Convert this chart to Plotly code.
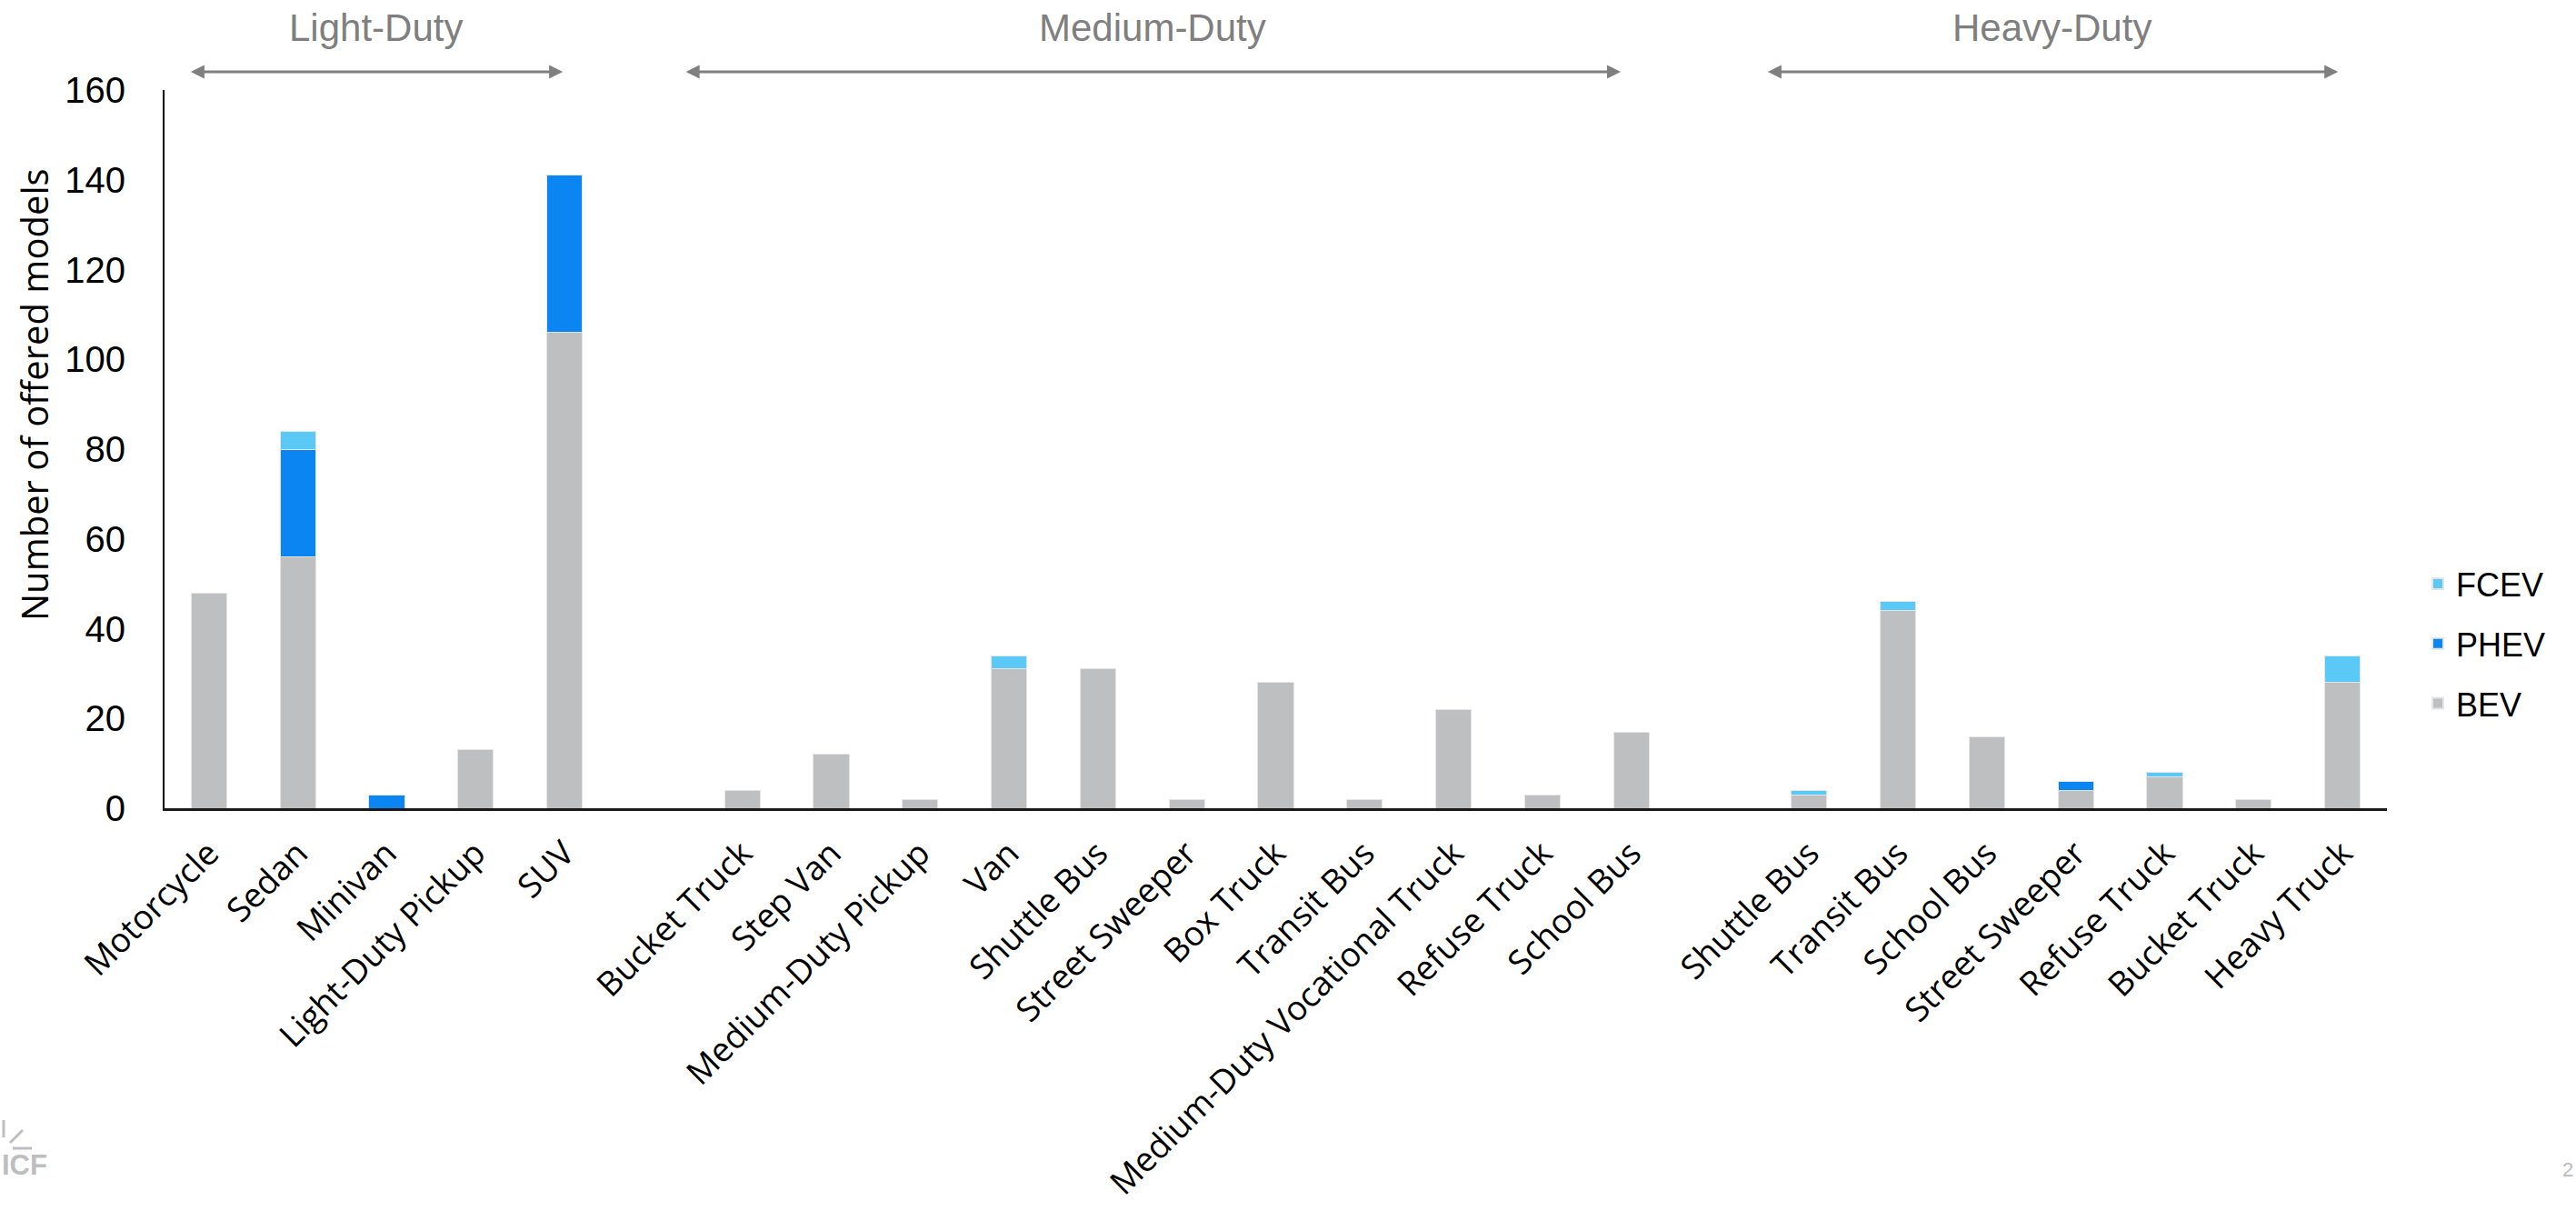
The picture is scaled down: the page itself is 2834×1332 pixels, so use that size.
import plotly.graph_objects as go

# Vehicle categories by weight class (blank slots separate the classes)
light_duty = ["Motorcycle", "Sedan", "Minivan", "Light-Duty Pickup", "SUV"]
medium_duty = ["Bucket Truck", "Step Van", "Medium-Duty Pickup", "Van", "Shuttle Bus",
               "Street Sweeper", "Box Truck", "Transit Bus", "Medium-Duty Vocational Truck",
               "Refuse Truck", "School Bus"]
heavy_duty = ["Shuttle Bus", "Transit Bus", "School Bus", "Street Sweeper",
              "Refuse Truck", "Bucket Truck", "Heavy Truck"]

# Offered models per powertrain, in the same order as the categories above
bev_ld = [48, 56, 0, 13, 106]
phev_ld = [0, 24, 3, 0, 35]
fcev_ld = [0, 4, 0, 0, 0]

bev_md = [4, 12, 2, 31, 31, 2, 28, 2, 22, 3, 17]
phev_md = [0, 0, 0, 0, 0, 0, 0, 0, 0, 0, 0]
fcev_md = [0, 0, 0, 3, 0, 0, 0, 0, 0, 0, 0]

bev_hd = [3, 44, 16, 4, 7, 2, 28]
phev_hd = [0, 0, 0, 2, 0, 0, 0]
fcev_hd = [1, 2, 0, 0, 1, 0, 6]

class_names = ["Light-Duty", "Medium-Duty", "Heavy-Duty"]

# x positions: one slot per category, with an empty slot between classes
x_ld = list(range(0, len(light_duty)))
x_md = list(range(len(light_duty) + 1, len(light_duty) + 1 + len(medium_duty)))
x_hd = list(range(x_md[-1] + 2, x_md[-1] + 2 + len(heavy_duty)))

xs = x_ld + x_md + x_hd
labels = light_duty + medium_duty + heavy_duty
bev = bev_ld + bev_md + bev_hd
phev = phev_ld + phev_md + phev_hd
fcev = fcev_ld + fcev_md + fcev_hd

W, H = 2834, 1332
ML, MR, MT, MB = 181, 208, 99, 443
PW, PH = W - ML - MR, H - MT - MB


def px(xp):
    return (xp - ML) / PW


def py(yp):
    return (H - MB - yp) / PH


colors = {"BEV": "#BEBFC1", "PHEV": "#0A85F2", "FCEV": "#5BC9F5"}
ranks = {"FCEV": 1, "PHEV": 2, "BEV": 3}

fig = go.Figure()
for name, vals in [("BEV", bev), ("PHEV", phev), ("FCEV", fcev)]:
    fig.add_trace(go.Bar(
        x=xs, y=vals, name=name, width=0.4,
        legendgroup=name, legendrank=ranks[name],
        marker=dict(color=colors[name], line=dict(width=1, color="#E4E5E6")),
    ))

label_font = "Open Sans, Lato, sans-serif"
num_font = "Liberation Sans, Arial, sans-serif"

fig.update_layout(
    width=W, height=H,
    barmode="stack",
    plot_bgcolor="white", paper_bgcolor="white",
    margin=dict(l=ML, r=MR, t=MT, b=MB, autoexpand=False),
    showlegend=True,
    legend=dict(
        traceorder="grouped",
        x=px(2662), y=py(708), xanchor="left", yanchor="middle",
        font=dict(family=num_font, size=36, color="#000"),
        itemsizing="constant", tracegroupgap=16,
    ),
    xaxis=dict(
        range=[-0.5, x_hd[-1] + 0.5],
        tickmode="array", tickvals=xs, ticktext=labels,
        tickangle=-45, ticks="", showgrid=False, zeroline=False,
        showline=True, linecolor="#1a1a1a", linewidth=3,
        tickfont=dict(family=label_font, size=37, color="#000"),
        ticklabelstandoff=10,
    ),
    yaxis=dict(
        range=[0, 160], tickvals=[0, 20, 40, 60, 80, 100, 120, 140, 160],
        ticks="", showgrid=False, zeroline=False,
        showline=True, linecolor="#000", linewidth=2,
        tickfont=dict(family=num_font, size=40, color="#000"),
        ticklabelstandoff=33,
    ),
)

# Axis title
fig.add_annotation(
    text="Number of offered models", textangle=-90,
    x=px(37), y=py(434), xref="paper", yref="paper",
    xanchor="center", yanchor="middle",
    showarrow=False, font=dict(family=label_font, size=40, color="#000"),
)

# Weight-class headers with double-headed arrows spanning each class
spans = [(x_ld[0] - 0.22, x_ld[-1] - 0.02),
         (x_md[0] - 0.65, x_md[-1] - 0.12),
         (x_hd[0] - 0.48, x_hd[-1] - 0.05)]
for name, (a, b) in zip(class_names, spans):
    fig.add_annotation(
        x=b, y=py(79), xref="x", yref="paper",
        ax=a, ay=0, axref="x", ayref="pixel",
        text="", showarrow=True, arrowhead=2, startarrowhead=2,
        arrowside="end+start", arrowsize=1, startarrowsize=1,
        arrowwidth=3, arrowcolor="#7F7F7F",
    )
    fig.add_annotation(
        x=(a + b) / 2, y=py(31), xref="x", yref="paper",
        xanchor="center", yanchor="middle",
        text=name, showarrow=False,
        font=dict(family="Liberation Sans Narrow, Liberation Sans, Arial", size=42, color="#7F7F7F"),
    )

# Footer: ICF logo mark and page number
logo_gray = "#BDBEC0"
fig.add_shape(type="line", xref="paper", yref="paper",
              x0=px(4), x1=px(4), y0=py(1232), y1=py(1251),
              line=dict(color=logo_gray, width=3))
fig.add_shape(type="line", xref="paper", yref="paper",
              x0=px(11), x1=px(25), y0=py(1257), y1=py(1243),
              line=dict(color=logo_gray, width=3))
fig.add_shape(type="line", xref="paper", yref="paper",
              x0=px(14), x1=px(35), y0=py(1263), y1=py(1263),
              line=dict(color=logo_gray, width=3))
fig.add_annotation(
    text="<b>ICF</b>", x=px(0), y=py(1281), xref="paper", yref="paper",
    xanchor="left", yanchor="middle", showarrow=False,
    font=dict(family="Liberation Sans, Arial", size=31, color=logo_gray),
)
fig.add_annotation(
    text="2", x=px(2833), y=py(1286), xref="paper", yref="paper",
    xanchor="right", yanchor="middle", showarrow=False,
    font=dict(family="Liberation Sans, Arial", size=22, color="#BBBBBB"),
)

fig.write_html("out.html")
